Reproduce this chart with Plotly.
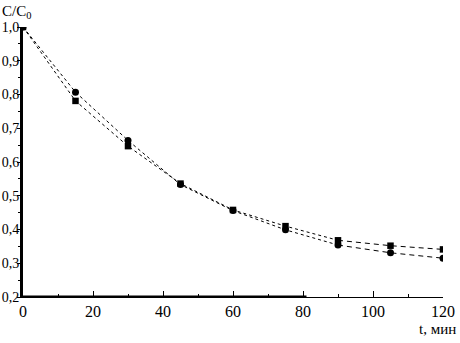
import plotly.graph_objects as go

t = [0, 15, 30, 45, 60, 75, 90, 105, 120]
circles = [1.0, 0.807, 0.664, 0.533, 0.456, 0.399, 0.354, 0.331, 0.315]
squares = [1.0, 0.781, 0.647, 0.536, 0.458, 0.410, 0.368, 0.352, 0.341]

FONT = "Liberation Serif, Times New Roman, DejaVu Serif, serif"
fig = go.Figure()

for ys in (circles, squares):
    fig.add_trace(go.Scatter(x=t[:7], y=ys[:7], mode="lines", line=dict(color="black", width=1, dash="dot"), showlegend=False))
    fig.add_trace(go.Scatter(x=t[6:], y=ys[6:], mode="lines", line=dict(color="black", width=1, dash="5px,4px"), showlegend=False))

fig.add_trace(go.Scatter(x=t, y=circles, mode="markers", marker=dict(symbol="circle", size=7, color="black"), showlegend=False))
fig.add_trace(go.Scatter(x=t, y=squares, mode="markers", marker=dict(symbol="square", size=6.5, color="black"), showlegend=False))

# thick part of the bottom axis line (as in the original scan)
fig.add_shape(type="line", x0=0, x1=81, y0=0.2, y1=0.2, xref="x", yref="y", line=dict(color="black", width=3), layer="above")

fig.update_layout(
    width=460, height=343,
    margin=dict(l=23, r=17, t=27, b=46),
    plot_bgcolor="white", paper_bgcolor="white",
    separators=", ",
    font=dict(family=FONT, size=16, color="black"),
    xaxis=dict(range=[0, 120], tickvals=[0, 20, 40, 60, 80, 100, 120], showgrid=False, zeroline=False, automargin=False,
               showline=True, linecolor="black", linewidth=1, ticks="inside", ticklen=6, tickcolor="black",
               minor=dict(tickvals=[10, 30, 50, 70, 90, 110], ticks="inside", ticklen=3, tickcolor="black"),
               tickfont=dict(family=FONT, size=16)),
    yaxis=dict(range=[0.2, 1.0], tickvals=[0.2, 0.3, 0.4, 0.5, 0.6, 0.7, 0.8, 0.9, 1.0], tickformat=".1f",
               showgrid=False, zeroline=False, showline=True, linecolor="black", linewidth=3, automargin=False,
               ticks="outside", ticklen=3, tickcolor="black", ticklabelstandoff=-5,
               minor=dict(tickvals=[0.25, 0.35, 0.45, 0.55, 0.65, 0.75, 0.85, 0.95], ticks="outside", ticklen=2, tickcolor="black"),
               tickfont=dict(family=FONT, size=14)),
    annotations=[
        dict(text="C/C<sub>0</sub>", xref="paper", yref="paper", x=-0.055, y=1.0, yshift=26, xanchor="left", yanchor="top",
             showarrow=False, font=dict(family=FONT, size=15)),
        dict(text="t, мин", xref="paper", yref="paper", x=1.035, y=0, yshift=-22, xanchor="right", yanchor="top",
             showarrow=False, font=dict(family=FONT, size=15)),
    ],
)

fig.write_html("out.html", config={"displayModeBar": False},
               post_script="document.body.style.margin='0';document.body.style.padding='0';")
